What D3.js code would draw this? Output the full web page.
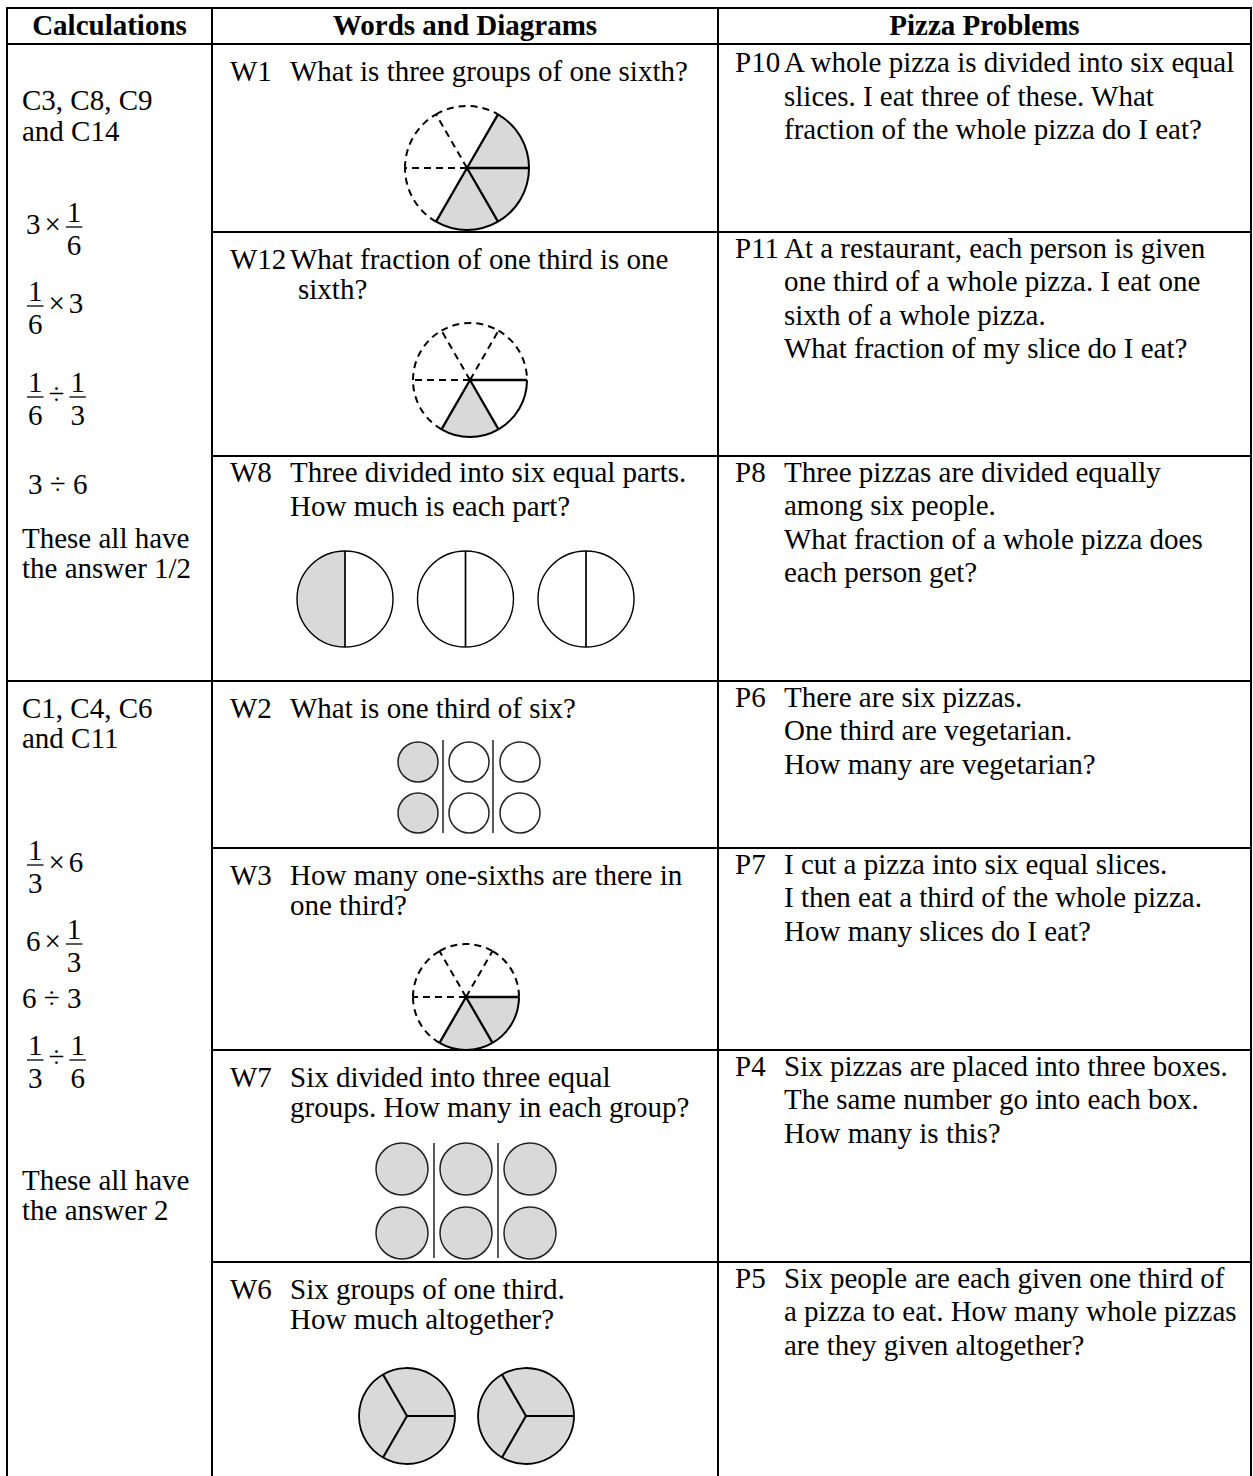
<!DOCTYPE html>
<html><head><meta charset="utf-8">
<script src="https://cdn.jsdelivr.net/npm/d3@7"></script>
<style>
body{margin:0;background:#fff}
svg{display:block}
text{font-family:'Liberation Serif','Times New Roman',serif;font-size:29px;fill:#000}
</style>
</head><body>
<svg id="c" width="1253" height="1476"></svg>
<script>
// ---------- content data ----------
const headers = ["Calculations", "Words and Diagrams", "Pizza Problems"];

const calcCodes1 = ["C3, C8, C9", "and C14"];
const calcExprs1 = [["3", "×", ["1", "6"]], [["1", "6"], "×", "3"], [["1", "6"], "÷", ["1", "3"]]];
const calcPlain1 = "3 ÷ 6";
const calcNote1 = ["These all have", "the answer 1/2"];

const calcCodes2 = ["C1, C4, C6", "and C11"];
const calcExprs2 = [[["1", "3"], "×", "6"], ["6", "×", ["1", "3"]], [["1", "3"], "÷", ["1", "6"]]];
const calcPlain2 = "6 ÷ 3";
const calcNote2 = ["These all have", "the answer 2"];

const wordIds = ["W1", "W12", "W8", "W2", "W3", "W7", "W6"];
const wordLines = [
  ["What is three groups of one sixth?"],
  ["What fraction of one third is one", "sixth?"],
  ["Three divided into six equal parts.", "How much is each part?"],
  ["What is one third of six?"],
  ["How many one-sixths are there in", "one third?"],
  ["Six divided into three equal", "groups. How many in each group?"],
  ["Six groups of one third.", "How much altogether?"]
];

const pizzaIds = ["P10", "P11", "P8", "P6", "P7", "P4", "P5"];
const pizzaLines = [
  ["A whole pizza is divided into six equal", "slices. I eat three of these. What", "fraction of the whole pizza do I eat?"],
  ["At a restaurant, each person is given", "one third of a whole pizza. I eat one", "sixth of a whole pizza.", "What fraction of my slice do I eat?"],
  ["Three pizzas are divided equally", "among six people.", "What fraction of a whole pizza does", "each person get?"],
  ["There are six pizzas.", "One third are vegetarian.", "How many are vegetarian?"],
  ["I cut a pizza into six equal slices.", "I then eat a third of the whole pizza.", "How many slices do I eat?"],
  ["Six pizzas are placed into three boxes.", "The same number go into each box.", "How many is this?"],
  ["Six people are each given one third of", "a pizza to eat. How many whole pizzas", "are they given altogether?"]
];

// diagram data: slice states, clockwise from the first boundary
const w1Slices = ["shaded", "shaded", "shaded", "dashed", "dashed", "dashed"];
const w12Slices = ["dashed", "solid", "shaded", "dashed", "dashed", "dashed"];
const w3Slices = ["dashed", "shaded", "shaded", "dashed", "dashed", "dashed"];
const w8Halves = [["solid", "shaded"], ["solid", "solid"], ["solid", "solid"]];
const w2Columns = [[1, 1], [0, 0], [0, 0]];
const w7Columns = [[1, 1], [1, 1], [1, 1]];
const w6Thirds = [["shaded", "shaded", "shaded"], ["shaded", "shaded", "shaded"]];

// ---------- layout ----------
const svg = d3.select("#c");
const GREY = "#d9d9d9";
const colX = [7, 212, 718, 1251];
const tableTop = 8, headBottom = 44, sectionSplit = 681, tableBottom = 1476;
const rowTops = [44, 232, 456, 681, 848, 1050, 1262, 1476];

const gLines = svg.append("g").attr("stroke", "#000").attr("stroke-width", 2);
const hline = (x1, x2, y) => gLines.append("line").attr("x1", x1).attr("x2", x2).attr("y1", y).attr("y2", y);
const vline = (x, y1, y2) => gLines.append("line").attr("x1", x).attr("x2", x).attr("y1", y1).attr("y2", y2);

hline(colX[0] - 1, colX[3] + 1, tableTop);
hline(colX[0], colX[3], headBottom);
hline(colX[0], colX[3], sectionSplit);
rowTops.slice(1, -1).forEach(y => { if (y !== sectionSplit) hline(colX[1], colX[3], y); });
colX.forEach(x => vline(x, tableTop, tableBottom));

// headers
const headCenters = d3.pairs(colX).map(([a, b]) => (a + b) / 2);
svg.selectAll("text.head").data(headers).join("text")
  .attr("class", "head").attr("x", (d, i) => headCenters[i]).attr("y", 35)
  .attr("text-anchor", "middle").attr("font-weight", "bold").text(d => d);

function lines(arr, x, y0, dy) {
  arr.forEach((t, i) => svg.append("text").attr("x", x).attr("y", y0 + i * dy).text(t));
}

// words column
const wordLabelX = 230, wordTextX = 290;
wordIds.forEach((id, i) => {
  const top = rowTops[i];
  const first = id === "W8" ? top + 26 : top + 37;
  const dy = id === "W8" ? 33.5 : 30;
  svg.append("text").attr("x", wordLabelX).attr("y", first).text(id);
  wordLines[i].forEach((t, j) => {
    const x = (id === "W12" && j > 0) ? wordTextX + 8 : wordTextX;
    svg.append("text").attr("x", x).attr("y", first + j * dy).text(t);
  });
});

// pizza column
const pizzaLabelX = 735, pizzaTextX = 784;
pizzaIds.forEach((id, i) => {
  const top = rowTops[i];
  const first = id === "P10" ? top + 28 : top + 25.5;
  svg.append("text").attr("x", pizzaLabelX).attr("y", first).text(id);
  lines(pizzaLines[i], pizzaTextX, first, 33.5);
});

// calculations column
const calcX = 22;
lines(calcCodes1, calcX, 110, 31);
lines(calcCodes2, calcX, 718, 30);

function expr(tokens, x0, axis) {
  const g = svg.append("g");
  let x = x0;
  tokens.forEach(tok => {
    if (Array.isArray(tok)) {
      const n = g.append("text").attr("y", axis - 5).attr("text-anchor", "middle").text(tok[0]);
      const d = g.append("text").attr("y", axis + 28).attr("text-anchor", "middle").text(tok[1]);
      const w = Math.max(n.node().getComputedTextLength(), d.node().getComputedTextLength()) + 2;
      const cx = x + 1 + w / 2;
      n.attr("x", cx); d.attr("x", cx);
      g.append("line").attr("x1", x + 1).attr("x2", x + 1 + w).attr("y1", axis).attr("y2", axis)
        .attr("stroke", "#000").attr("stroke-width", 1.3);
      x += w + 2;
    } else {
      const op = tok === "×" || tok === "÷";
      if (op) x += 4;
      const t = g.append("text").attr("x", x).attr("y", axis + 7).text(tok);
      x += t.node().getComputedTextLength();
      if (op) x += 4;
    }
  });
}
const bars1 = [227, 306, 397], bars2 = [865, 944, 1060];
calcExprs1.forEach((e, i) => expr(e, 26, bars1[i]));
calcExprs2.forEach((e, i) => expr(e, 26, bars2[i]));
svg.append("text").attr("x", 28).attr("y", 494).attr("xml:space", "preserve").text(calcPlain1);
svg.append("text").attr("x", 22).attr("y", 1008).attr("xml:space", "preserve").text(calcPlain2);
lines(calcNote1, calcX, 548, 30);
lines(calcNote2, calcX, 1190, 30);

// ---------- diagrams ----------
const rad = deg => deg * Math.PI / 180;
function drawPie(cx, cy, r, startDeg, states, sw) {
  const n = states.length, step = 360 / n;
  const g = svg.append("g").attr("transform", `translate(${cx},${cy})`);
  const arcGen = d3.arc().innerRadius(0).outerRadius(r);
  states.forEach((s, i) => {
    if (s === "shaded") {
      g.append("path").attr("d", arcGen({startAngle: rad(startDeg + i * step), endAngle: rad(startDeg + (i + 1) * step)}))
        .attr("fill", GREY);
    }
  });
  states.forEach((s, i) => {
    const p = d3.path();
    const a0 = rad(startDeg + i * step - 90), a1 = rad(startDeg + (i + 1) * step - 90);
    p.moveTo(r * Math.cos(a0), r * Math.sin(a0));
    p.arc(0, 0, r, a0, a1);
    g.append("path").attr("d", p.toString()).attr("fill", "none").attr("stroke", "#000")
      .attr("stroke-width", sw).attr("stroke-dasharray", s === "dashed" ? "7,5" : null);
  });
  for (let i = 0; i < n; i++) {
    const prev = states[(i - 1 + n) % n], cur = states[i];
    const dashed = prev === "dashed" && cur === "dashed";
    const [px, py] = d3.pointRadial(rad(startDeg + i * step), r);
    g.append("line").attr("x1", 0).attr("y1", 0).attr("x2", px).attr("y2", py)
      .attr("stroke", "#000").attr("stroke-width", dashed ? sw : sw + 0.3)
      .attr("stroke-dasharray", dashed ? "7,5" : null);
  }
}

drawPie(467, 168, 62, 30, w1Slices, 2);
drawPie(470, 380, 57, 30, w12Slices, 2);
drawPie(466, 997, 53, 30, w3Slices, 2);

const w8X = d3.scalePoint().domain(d3.range(w8Halves.length)).range([345, 586]);
w8Halves.forEach((h, i) => drawPie(w8X(i), 599, 48, 0, h, 1.4));

const w6X = d3.scalePoint().domain(d3.range(w6Thirds.length)).range([407, 526]);
w6Thirds.forEach((t, i) => drawPie(w6X(i), 1416, 48, 90, t, 1.8));

function drawGroups(cols, xs, ys, r, lineXs, y1, y2) {
  const g = svg.append("g");
  cols.forEach((col, i) => col.forEach((f, j) => {
    g.append("circle").attr("cx", xs[i]).attr("cy", ys[j]).attr("r", r)
      .attr("fill", f ? GREY : "#fff").attr("stroke", "#222").attr("stroke-width", 1.5);
  }));
  lineXs.forEach(x => g.append("line").attr("x1", x).attr("x2", x).attr("y1", y1).attr("y2", y2)
    .attr("stroke", "#222").attr("stroke-width", 1.5));
}
drawGroups(w2Columns, [418, 469, 520], [762, 813], 20, [443, 493], 740, 833);
drawGroups(w7Columns, [402, 466, 530], [1169, 1233], 26, [434, 498], 1143, 1258);
</script>
</body></html>
